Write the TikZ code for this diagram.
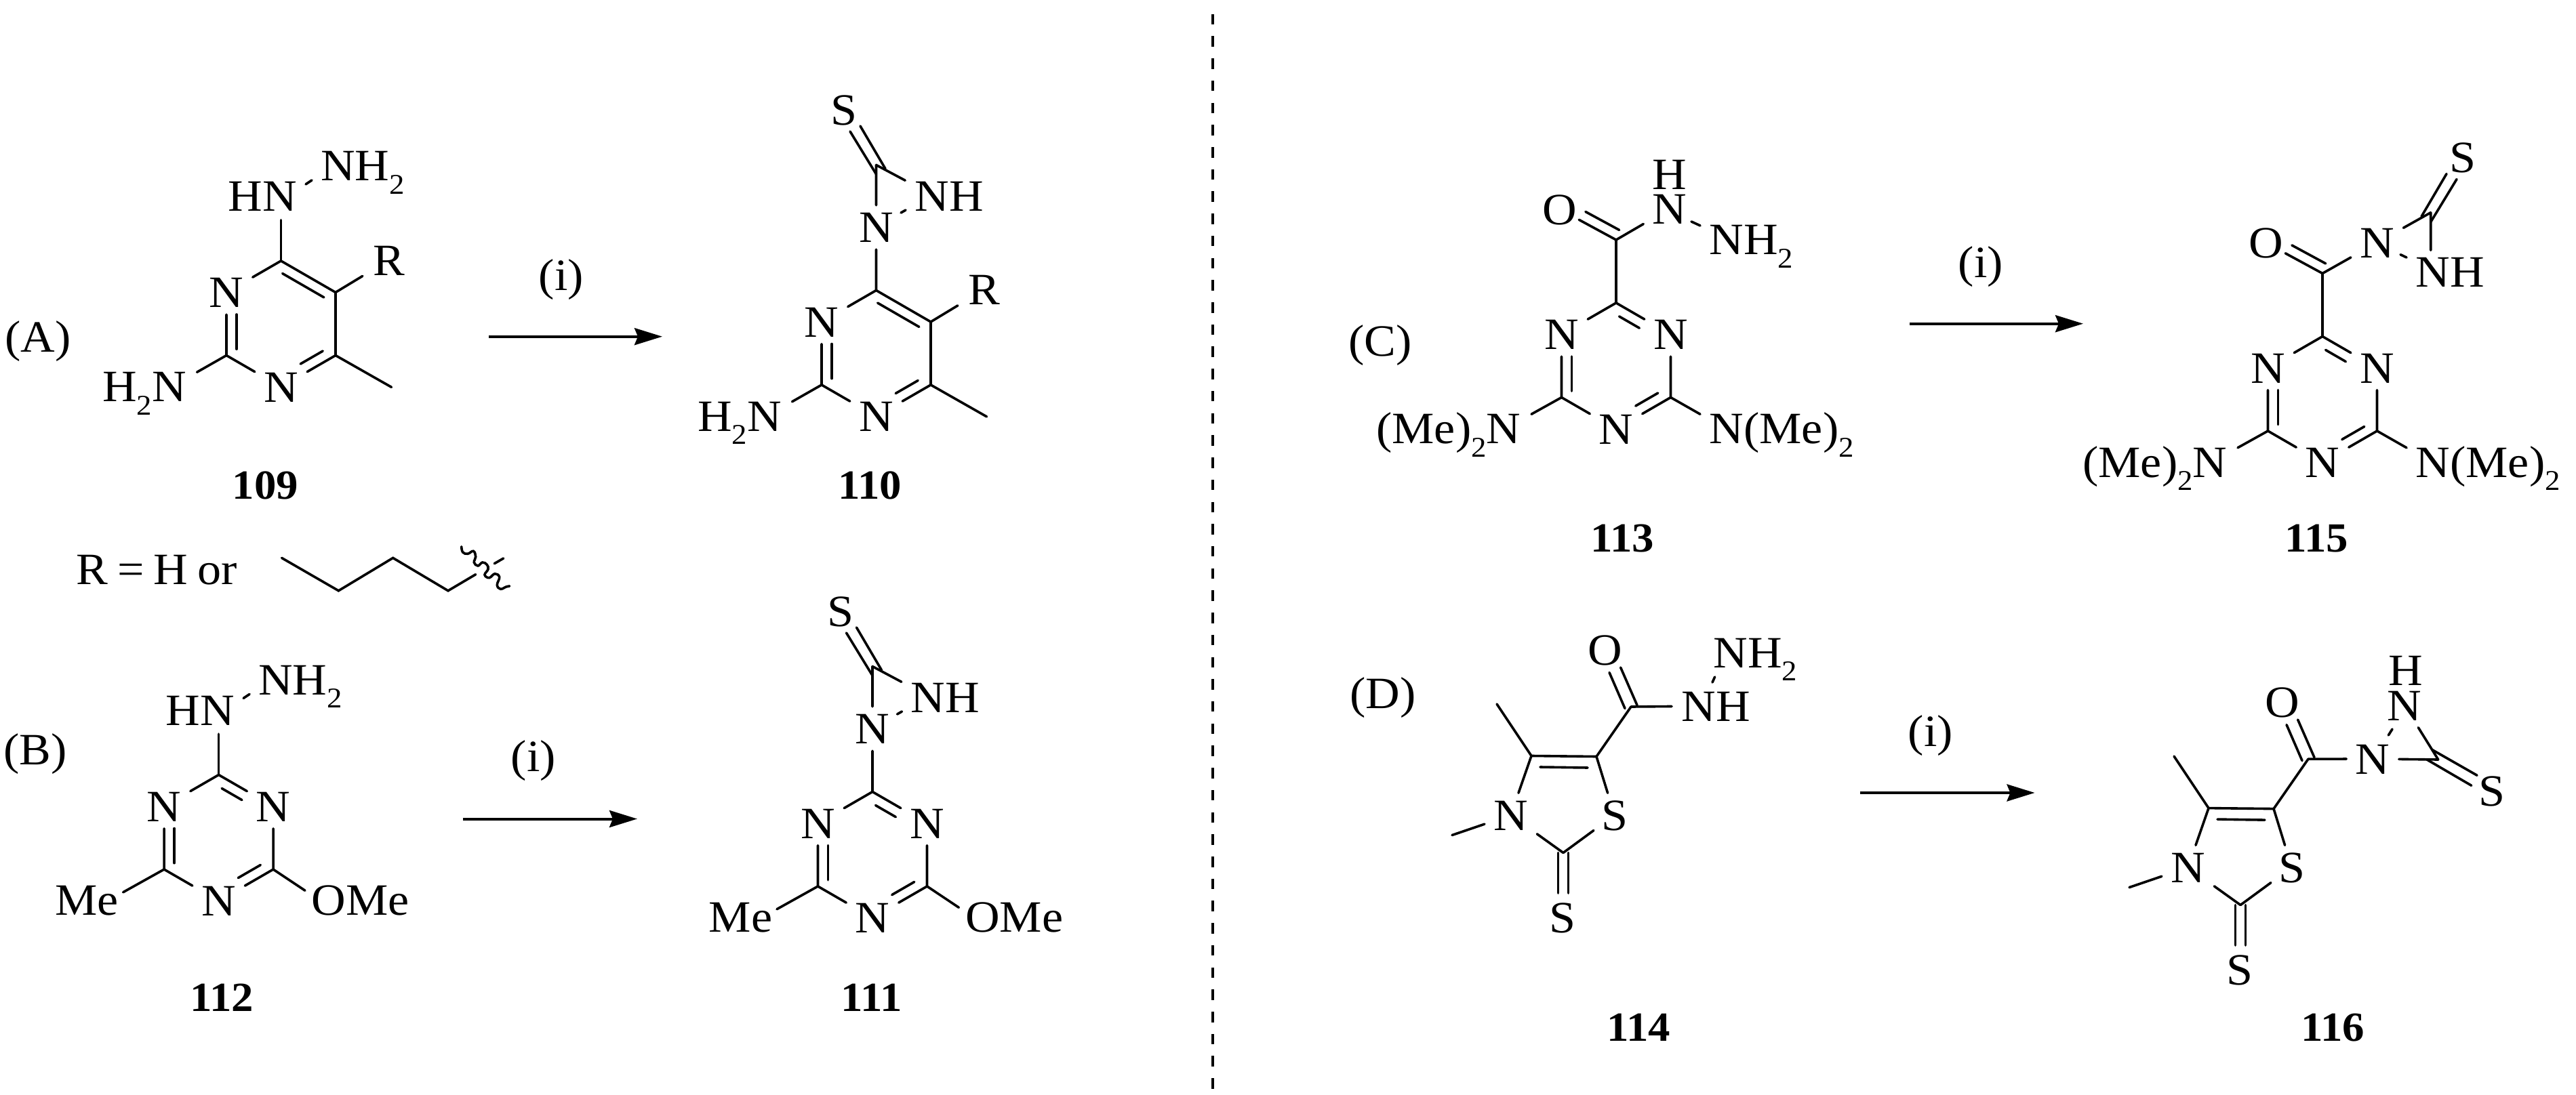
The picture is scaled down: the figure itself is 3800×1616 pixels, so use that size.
\documentclass[tikz,border=0pt]{standalone}
\usepackage{fontspec}
\setmainfont[FakeStretch=1.06]{Liberation Serif}
\usetikzlibrary{calc,arrows.meta}
\newcommand{\two}{\raisebox{-.19cm}{\fontsize{12}{12}\selectfont 2}}
\tikzset{
  bond/.style={line width=.036cm,line cap=round,line join=miter},
  atom/.style={inner sep=0pt,text height=.44cm,text depth=0pt,minimum width=.76cm,minimum height=.64cm},
  satom/.style={atom,minimum width=.6cm},
  grp/.style={inner ysep=0pt,inner xsep=0pt,text height=.43cm,text depth=0pt},
  plain/.style={inner sep=0pt,text depth=0pt,anchor=base},
  cpd/.style={plain,font=\bfseries},
  rxn/.style={line width=.04cm,-{Stealth[length=.41cm,width=.25cm,inset=.05cm]}},
  every node/.append style={font=\fontsize{18.8}{20}\selectfont},
  cpd/.append style={font=\fontsize{17.4}{20}\selectfont\bfseries},
}
\newcommand{\innerbond}[4]{\draw[bond] ($(#1)!#3!(#2)!.15cm!-90:(#2)$) -- ($(#1)!#4!(#2)!.15cm!-90:(#2)$);}
% six-membered ring, centred on the scope origin; #1 defines (ur)
\newcommand{\hexring}[3]{%
  \coordinate (t) at (0,-93);
  \coordinate (lr) at (80.5,46.5);
  \coordinate (ll) at (-80.5,46.5);
  \node[atom] (b) at (0,93) {N};
  \node[atom] (ul) at (-80.5,-46.5) {N};
  #1
  \draw[bond] (t) -- (ul) (t) -- (ur) (ur) -- (lr) (lr) -- (b) (b) -- (ll) (ll) -- (ul);
  \innerbond{t}{ur}{#2}{#3}
  \innerbond{lr}{b}{.14}{.55}
  \innerbond{ll}{ul}{.1}{.65}
}
\newcommand{\pyrimidine}{%
  \hexring{\coordinate (ur) at (80.5,-46.5);}{.12}{.88}
  \node[atom] (r) at (159,-94) {R};
  \coordinate (me) at (163,93.4);
  \node[grp,anchor=base east,inner xsep=.15cm] (hn2) at (-124,115) {H\two N};
  \draw[bond] (ur) -- (r) (lr) -- (me) (ll) -- (hn2.north east);
}
\newcommand{\triazine}{\hexring{\node[atom] (ur) at (80.5,-46.5) {N};}{.15}{.52}}
\newcommand{\hydrazine}{%
  \node[grp,anchor=base east,inner ysep=.12cm,text height=.44cm] (hn) at (24,-166) {HN};
  \node[grp,anchor=base west] (nh2) at (58,-211) {NH\two};
  \draw[bond] (t) -- (t |- hn.south);
  \draw[bond] (36.5,-206) -- (45.5,-212);
}
\newcommand{\thio}{%
  \node[atom] (n) at (0,-186) {N};
  \coordinate (apex) at (0,-278);
  \node[satom] (s) at (-47.5,-359.5) {S};
  \node[grp,text height=.44cm,minimum width=1.28cm] (nh) at (107.5,-232.5) {NH};
  \draw[bond] (t) -- (n) (n) -- (apex) (apex) -- (nh.north west);
  \draw[bond] (-38.5,-327.5) -- (0,-264.5) (-23.5,-335.5) -- (13.5,-272.5);
  \draw[bond] (36.5,-207.5) -- (43.5,-211.5);
}
\newcommand{\methoxy}{%
  \node[grp,anchor=base east,inner xsep=.06cm,text height=.33cm] (mea) at (-141,114) {Me};
  \node[grp,anchor=base west,inner xsep=.09cm,text height=.355cm] (ome) at (127.4,114) {OMe};
  \draw[bond] (ll) -- (mea.north east) (lr) -- (ome.north west);
}
\newcommand{\dimethyl}{%
  \node[grp,anchor=base east,inner xsep=.15cm] (nl) at (-125,115) {(Me)\two N};
  \node[grp,anchor=base west,inner xsep=.13cm] (nr) at (124,115) {N(Me)\two};
  \draw[bond] (ll) -- (nl.north east) (lr) -- (nr.north west);
  \coordinate (c) at (0,-186);
  \node[atom] (o) at (-83,-231) {O};
  \draw[bond] (t) -- (c) (c) -- ($(c)!.66!(o)$);
  \innerbond{c}{o}{.03}{.63}
}
\newcommand{\thiazole}{%
  \coordinate (c4) at (0,0);
  \coordinate (c5) at (96,1);
  \coordinate (c2) at (47,143);
  \node[satom] (s1) at (122.6,87.5) {S};
  \node[atom] (n3) at (-30.4,87.5) {N};
  \node[atom,minimum height=.72cm] (sx) at (46,238.5) {S};
  \coordinate (men) at (-117,117);
  \coordinate (mec) at (-51,-76.5);
  \coordinate (cc) at (147,-72.5);
  \node[atom] (oc) at (108.6,-156.5) {O};
  \draw[bond] (c4) -- (c5) (c5) -- (s1) (s1) -- (c2) (c2) -- (n3) (n3) -- (c4);
  \draw[bond] (13,16.5) -- (83,17.5);
  \draw[bond] (n3) -- (men) (c4) -- (mec) (c5) -- (cc);
  \draw[bond] ($(c2)+(-7.5,0)$) -- ($(c2)+(-7.5,59.5)$) ($(c2)+(7.5,0)$) -- ($(c2)+(7.5,59.5)$);
  \draw[bond] (138,-70) -- (115,-123) (156,-74.7) -- (131.6,-130.5);
}
\begin{document}
\begin{tikzpicture}[x=.01cm,y=-.01cm]
\useasboundingbox (0,0) rectangle (3800,1616);
\fill[white] (0,0) rectangle (3800,1616);

% divider
\coordinate (div1) at (1788.7,20.7);
\coordinate (div2) at (1788.7,1610);
\draw[line width=.036cm,dash pattern=on .155cm off .172cm] (div1) -- (div2);

% panel labels
\node[plain] (la) at (56,520) {(A)};
\node[plain] (lb) at (52,1128) {(B)};
\node[plain] (lc) at (2036,525.5) {(C)};
\node[plain] (ld) at (2040,1045.6) {(D)};

% reaction arrows and conditions
\coordinate (a1) at (721,496.7); \coordinate (a2) at (977,496.7);
\coordinate (b1) at (683,1208.5); \coordinate (b2) at (940,1208.5);
\coordinate (c1) at (2816.6,477.7); \coordinate (c2x) at (3073,477.7);
\coordinate (d1) at (2743.9,1170); \coordinate (d2) at (3001.5,1170);
\draw[rxn] (a1) -- (a2);
\draw[rxn] (b1) -- (b2);
\draw[rxn] (c1) -- (c2x);
\draw[rxn] (d1) -- (d2);
\node[plain] (ia) at (828,428.6) {(i)};
\node[plain] (ib) at (787,1138) {(i)};
\node[plain] (ic) at (2922,410) {(i)};
\node[plain] (id) at (2848,1101) {(i)};

% compound numbers
\node[cpd] (n109) at (391.5,737) {109};
\node[cpd] (n110) at (1283,737) {110};
\node[cpd] (n112) at (327,1492) {112};
\node[cpd] (n111) at (1286,1492) {111};
\node[cpd] (n113) at (2393,814.5) {113};
\node[cpd] (n115) at (3417,814.5) {115};
\node[cpd] (n114) at (2417,1536) {114};
\node[cpd] (n116) at (3441.5,1536) {116};

% R definition
\node[plain] (rdef) at (231,862.5) {\spaceskip=.21em\relax R = H or};
\coordinate (r1) at (415.6,823.4);
\coordinate (r2) at (499.4,871.8);
\coordinate (r3) at (579.7,823.4);
\coordinate (r4) at (661,871.8);
\coordinate (r5) at (701.7,847.7);
\draw[bond] (r1) -- (r2) -- (r3) -- (r4) -- (r5);
\draw[bond] plot[smooth,tension=.7] coordinates {(680.7,806.7) (682.7,815) (690,817.3) (698.3,813.3) (701.7,821.7) (699.3,830) (705,835) (711.7,830) (718.3,833.3) (720,840) (715,848.3) (721.7,852.7) (730,846.7) (736.7,851.7) (733.3,863.3) (738.3,869.3) (746.7,866) (751.7,865)};
\draw[bond] (729.3,831.7) -- (742.7,824);

% 109
\begin{scope}[shift={(414.5,478)},name prefix=m109-]
  \pyrimidine \hydrazine
\end{scope}
% 110
\begin{scope}[shift={(1292.5,521.5)},name prefix=m110-]
  \pyrimidine \thio
\end{scope}
% 112
\begin{scope}[shift={(322.6,1236.5)},name prefix=m112-]
  \triazine \methoxy \hydrazine
\end{scope}
% 111
\begin{scope}[shift={(1287,1261.5)},name prefix=m111-]
  \triazine \methoxy \thio
\end{scope}
% 113
\begin{scope}[shift={(2384,540)},name prefix=m113-]
  \triazine \dimethyl
  \node[atom] (na) at (79,-232) {N};
  \node[atom] (h) at (79,-283) {H};
  \node[grp,anchor=base west] (nb) at (137,-164) {NH\two};
  \draw[bond] (c) -- (na);
  \draw[bond] (111,-213) -- (124,-207);
\end{scope}
% 115
\begin{scope}[shift={(3426,589.5)},name prefix=m115-]
  \triazine \dimethyl
  \node[atom] (na) at (80.6,-231.5) {N};
  \coordinate (apex) at (159.7,-275.8);
  \node[satom] (sx) at (207,-357) {S};
  \node[grp,text height=.44cm,minimum width=1.04cm,minimum height=.63cm] (nh) at (188.4,-188) {NH};
  \draw[bond] (c) -- (na) (na) -- (apex) (apex) -- (apex |- nh.north);
  \draw[bond] (198,-325) -- (159.7,-262) (183,-333) -- (146,-270);
  \draw[bond] (115,-213.8) -- (124,-209.5);
\end{scope}
% 114
\begin{scope}[shift={(2259,1115.5)},name prefix=m114-]
  \thiazole
  \node[grp,anchor=base west,inner xsep=.14cm] (nh) at (207,-51.5) {NH};
  \node[grp,anchor=base west] (nh2) at (268,-130.5) {NH\two};
  \draw[bond] (cc) -- (nh.west);
  \draw[bond] (270.6,-116.5) -- (267,-108.5);
\end{scope}
% 116
\begin{scope}[shift={(3258,1192.6)},name prefix=m116-]
  \thiazole
  \node[atom] (na) at (242,-72.6) {N};
  \node[atom] (nb) at (289,-151.6) {N};
  \node[atom] (h) at (291,-203.6) {H};
  \coordinate (apex) at (338.7,-71.6);
  \node[satom] (sy) at (418,-25.6) {S};
  \draw[bond] (cc) -- (na) (na) -- (apex) (nb) -- (apex);
  \draw[bond] (330,-86) -- (396,-48.3) (322,-71.6) -- (387.7,-33.3);
  \draw[bond] (271,-116.6) -- (265.3,-107.6);
\end{scope}
\end{tikzpicture}
\end{document}
